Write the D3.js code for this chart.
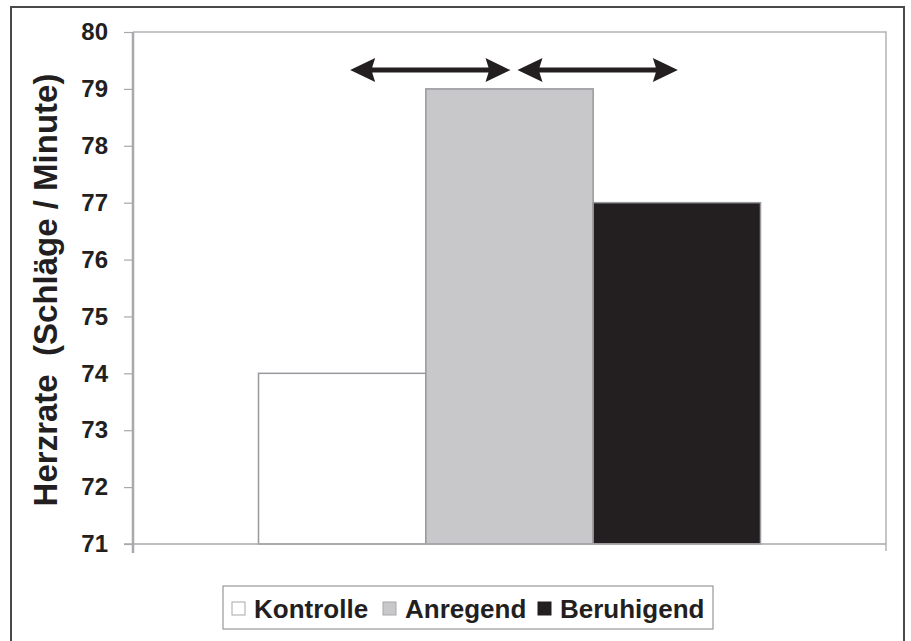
<!DOCTYPE html>
<html>
<head>
<meta charset="utf-8">
<script src="https://cdn.jsdelivr.net/npm/d3@7"></script>
<style>
  html, body { margin: 0; padding: 0; background: #fff; }
  svg { display: block; font-family: "Liberation Sans", Arial, sans-serif; }
</style>
</head>
<body>
<svg id="chart" width="911" height="641"></svg>
<script>
// Heart rate by music condition
const categories = ["Kontrolle", "Anregend", "Beruhigend"];
const values = [74, 79, 77];
const fills = ["#ffffff", "#c8c8ca", "#231f20"];
const yTicks = [71, 72, 73, 74, 75, 76, 77, 78, 79, 80];
// pairwise comparisons shown as double-headed arrows
const comparisons = [["Kontrolle", "Anregend"], ["Anregend", "Beruhigend"]];
const arrowLevel = 79.33;

const svg = d3.select("#chart");
const plot = { left: 133, right: 886, top: 32, bottom: 544 };

// outer frame
svg.append("rect")
  .attr("x", 11).attr("y", 7).attr("width", 893).attr("height", 660)
  .attr("fill", "none").attr("stroke", "#4a4a4a").attr("stroke-width", 2);

const y = d3.scaleLinear().domain([71, 80]).range([plot.bottom, plot.top]);
const group = d3.scaleBand().domain(["all"]).range([plot.left, plot.right]).paddingOuter(0.25).paddingInner(0);
const x = d3.scaleBand().domain(categories).range([group("all"), group("all") + group.bandwidth()]);

// plot area border (top/right)
svg.append("path")
  .attr("d", `M${plot.left},${plot.top}H${plot.right}V${plot.bottom + 7}`)
  .attr("fill", "none").attr("stroke", "#b4b4b8").attr("stroke-width", 1.5);

// bars
svg.append("g").selectAll("rect")
  .data(categories.map((c, i) => ({ c, v: values[i], f: fills[i] })))
  .join("rect")
  .attr("x", d => x(d.c))
  .attr("y", d => y(d.v))
  .attr("width", x.bandwidth())
  .attr("height", d => y(71) - y(d.v))
  .attr("fill", d => d.f)
  .attr("stroke", "#98989d")
  .attr("stroke-width", 1.5);

// baseline
svg.append("line")
  .attr("x1", plot.left - 9).attr("x2", plot.right)
  .attr("y1", plot.bottom).attr("y2", plot.bottom)
  .attr("stroke", "#a8a8ad").attr("stroke-width", 1.5);

// y axis
const yAxis = d3.axisLeft(y).tickValues(yTicks).tickSize(9).tickPadding(16).tickFormat(d3.format("d"));
const ya = svg.append("g").attr("transform", `translate(${plot.left},0)`).call(yAxis);
ya.select(".domain").remove();
ya.append("line").attr("x1", 0).attr("x2", 0).attr("y1", plot.top).attr("y2", plot.bottom + 9)
  .attr("stroke", "#a8a8ad").attr("stroke-width", 2.5);
ya.selectAll(".tick line").attr("stroke", "#a8a8ad").attr("stroke-width", 1.2);
ya.selectAll(".tick text")
  .attr("font-family", "'Liberation Sans', Arial, sans-serif")
  .attr("font-size", 24).attr("font-weight", "bold").attr("fill", "#231f20");

// y axis title
svg.append("text")
  .attr("transform", `translate(57,${(plot.top + plot.bottom) / 2 + 2}) rotate(-90)`)
  .attr("text-anchor", "middle")
  .attr("font-size", 33).attr("font-weight", "bold").attr("fill", "#231f20")
  .attr("xml:space", "preserve")
  .text("Herzrate  (Schläge / Minute)");

// comparison arrows
const headLen = 25, headHalf = 12, shaft = 5;
const arrows = svg.append("g").attr("fill", "#231f20").attr("stroke", "none");
comparisons.forEach(([a, b]) => {
  const x1 = x(a) + x.bandwidth() / 2 + 8;
  const x2 = x(b) + x.bandwidth() / 2 + 1;
  const yy = y(arrowLevel);
  const p = d3.path();
  p.moveTo(x1, yy);
  p.lineTo(x1 + headLen, yy - headHalf);
  p.lineTo(x1 + headLen - 3, yy - shaft / 2);
  p.lineTo(x2 - headLen + 3, yy - shaft / 2);
  p.lineTo(x2 - headLen, yy - headHalf);
  p.lineTo(x2, yy);
  p.lineTo(x2 - headLen, yy + headHalf);
  p.lineTo(x2 - headLen + 3, yy + shaft / 2);
  p.lineTo(x1 + headLen - 3, yy + shaft / 2);
  p.lineTo(x1 + headLen, yy + headHalf);
  p.closePath();
  arrows.append("path").attr("d", p.toString());
});

// legend
const legend = svg.append("g");
legend.append("rect")
  .attr("x", 223).attr("y", 586).attr("width", 490).attr("height", 43)
  .attr("fill", "#fff").attr("stroke", "#98989d").attr("stroke-width", 1.2);
const legendX = [232, 383, 538];
categories.forEach((c, i) => {
  legend.append("rect")
    .attr("x", legendX[i]).attr("y", 602).attr("width", 13).attr("height", 13)
    .attr("fill", fills[i]).attr("stroke", i === 2 ? "#231f20" : "#a8a8ad").attr("stroke-width", 1);
  legend.append("text")
    .attr("x", legendX[i] + 22).attr("y", 618)
    .attr("font-size", 26).attr("font-weight", "bold").attr("fill", "#231f20")
    .text(c);
});
</script>
</body>
</html>
